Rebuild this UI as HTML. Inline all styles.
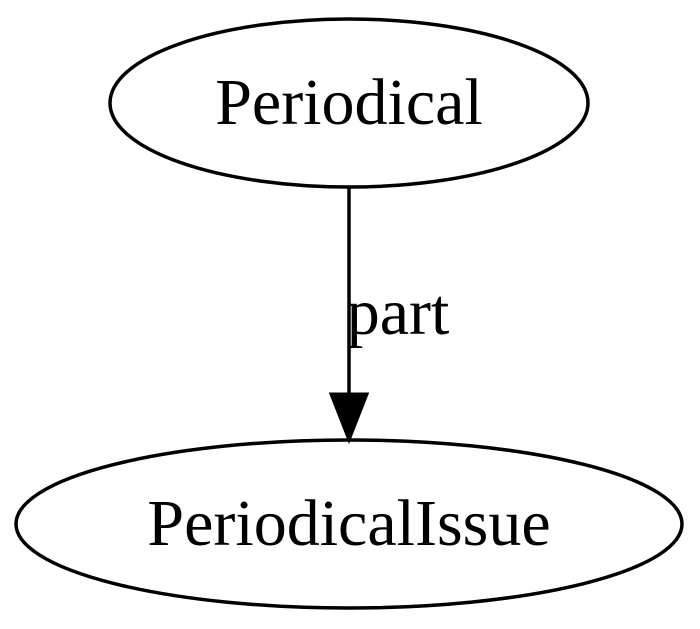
<!DOCTYPE html>
<html><head><style>html,body{margin:0;padding:0;background:#fff;width:700px;height:629px;overflow:hidden}</style></head>
<body>
<svg width="700" height="629" viewBox="0 0 700 629" xmlns="http://www.w3.org/2000/svg">
<rect width="700" height="629" fill="#fff"/>
<ellipse cx="349" cy="103" rx="239" ry="84" fill="none" stroke="#000" stroke-width="3.5"/>
<text x="349" y="124" text-anchor="middle" font-family="Liberation Serif, serif" font-size="66">Periodical</text>
<line x1="349" y1="188" x2="349" y2="395" stroke="#000" stroke-width="3.5"/>
<polygon points="331,394 367,394 349,440" fill="#000" stroke="#000" stroke-width="3"/>
<text x="398" y="334" text-anchor="middle" font-family="Liberation Serif, serif" font-size="66">part</text>
<ellipse cx="349" cy="524" rx="333" ry="84" fill="none" stroke="#000" stroke-width="3.5"/>
<text x="349" y="545" text-anchor="middle" font-family="Liberation Serif, serif" font-size="66">PeriodicalIssue</text>
</svg>
</body></html>
